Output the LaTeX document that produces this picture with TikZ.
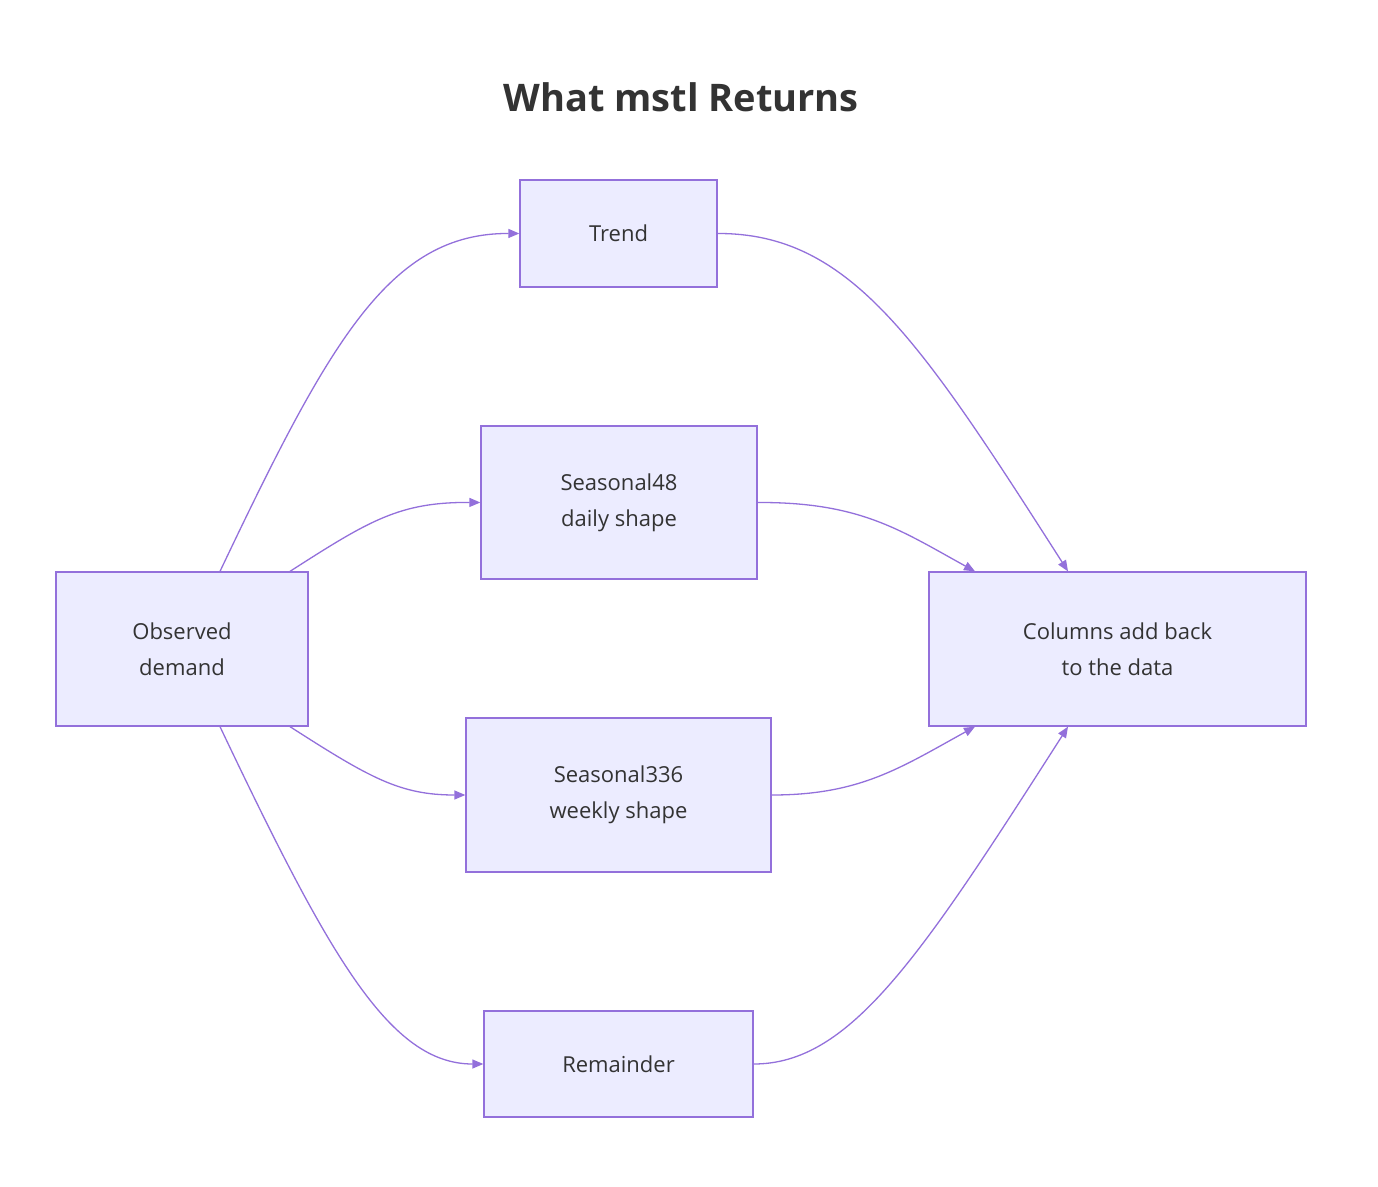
\documentclass[tikz,border=0pt]{standalone}
\usepackage{fontspec}
\setmainfont{Open Sans}
\usetikzlibrary{arrows.meta}
\definecolor{nfill}{HTML}{ECECFF}
\definecolor{nline}{HTML}{9370DB}
\definecolor{txt}{HTML}{333333}
\begin{document}
\begin{tikzpicture}[x=1pt,y=-1pt,
  box/.style={draw=nline,fill=nfill,line width=1.3pt,text=txt,align=center,inner sep=0pt,font=\fontsize{22}{36}\selectfont},
  edge/.style={draw=nline,line width=1.3pt,-{Triangle[length=11pt,width=9pt]}}]
\useasboundingbox (0,0) rectangle (1378,1186);
\node[text=txt,font=\fontsize{38}{44}\selectfont\bfseries] (title) at (681,97) {What mstl Returns};
\node[box,minimum width=197,minimum height=107] (trend) at (618.5,233.5) {Trend};
\node[box,minimum width=276,minimum height=153] (s48) at (619,502.5) {Seasonal48\\daily shape};
\node[box,minimum width=305,minimum height=154] (s336) at (618.5,795) {Seasonal336\\weekly shape};
\node[box,minimum width=269,minimum height=106] (rem) at (618.5,1064) {Remainder};
\node[box,minimum width=252,minimum height=154] (obs) at (182,649) {Observed\\demand};
\node[box,minimum width=377,minimum height=154] (col) at (1117.5,649) {Columns add back\\to the data};
\draw[edge] ([xshift=38]obs.north) .. controls (330,340) and (390,233) .. (trend.west);
\draw[edge] ([xshift=108]obs.north) .. controls (370,520) and (400,502) .. (s48.west);
\draw[edge] ([xshift=38]obs.south) .. controls (330,958) and (390,1064) .. (rem.west);
\draw[edge] ([xshift=108]obs.south) .. controls (370,778) and (400,795) .. (s336.west);
\draw[edge] (trend.east) .. controls (850,233) and (920,340) .. ([xshift=-49.5]col.north);
\draw[edge] (s48.east) .. controls (860,502) and (900,530) .. ([xshift=-142.5]col.north);
\draw[edge] (s336.east) .. controls (860,795) and (900,768) .. ([xshift=-142.5]col.south);
\draw[edge] (rem.east) .. controls (850,1064) and (920,958) .. ([xshift=-49.5]col.south);
\end{tikzpicture}
\end{document}
